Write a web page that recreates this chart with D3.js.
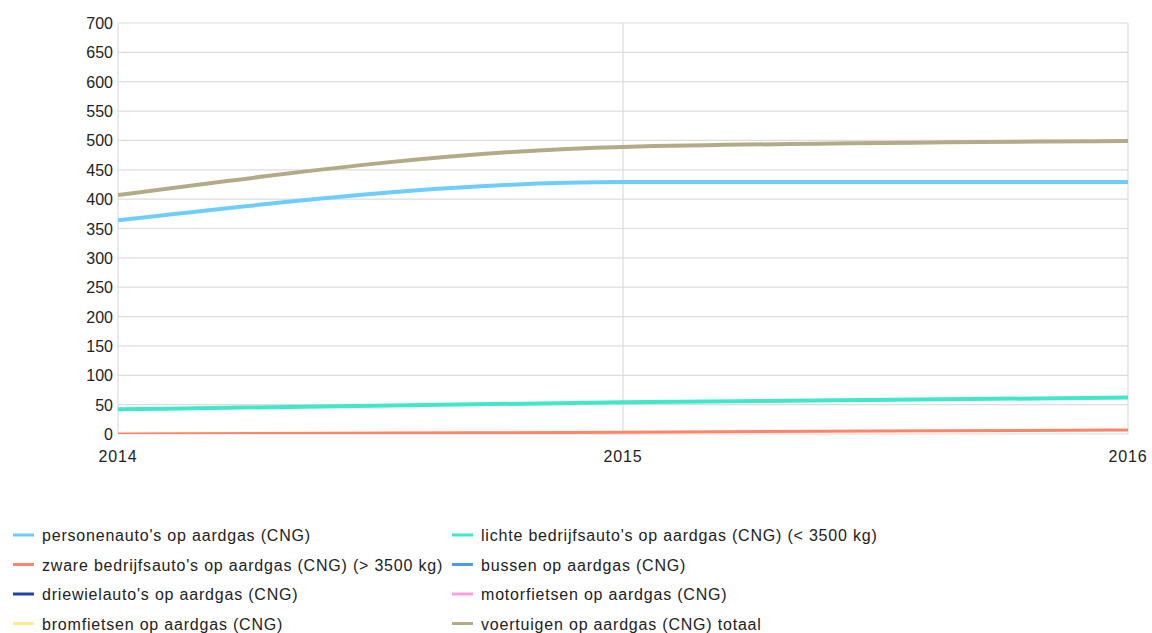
<!DOCTYPE html>
<html>
<head>
<meta charset="utf-8">
<script src="https://cdn.jsdelivr.net/npm/d3@7"></script>
<style>
  body { margin: 0; background: #fff; }
  text { font-family: "Liberation Sans", Arial, sans-serif; }
</style>
</head>
<body>
<div id="chart"></div>
<script>
var width = 1152, height = 633;

// data
var years = [2014, 2015, 2016];
var personen = [364, 429, 429];
var lichte = [42, 54, 62];
var zware = [0, 3, 7];
var bussen = [null, null, null];
var driewiel = [null, null, null];
var motor = [null, null, null];
var brom = [null, null, null];
var totaal = [407, 489, 499];
var yTicks = [0, 50, 100, 150, 200, 250, 300, 350, 400, 450, 500, 550, 600, 650, 700];

var series = [
  {name: "personenauto's op aardgas (CNG)", values: personen, color: "#6dcdff"},
  {name: "lichte bedrijfsauto's op aardgas (CNG) (< 3500 kg)", values: lichte, color: "#3ee8c8"},
  {name: "zware bedrijfsauto's op aardgas (CNG) (> 3500 kg)", values: zware, color: "#ff8468"},
  {name: "bussen op aardgas (CNG)", values: bussen, color: "#4f97f5"},
  {name: "driewielauto's op aardgas (CNG)", values: driewiel, color: "#1c43a8"},
  {name: "motorfietsen op aardgas (CNG)", values: motor, color: "#ff9ee0"},
  {name: "bromfietsen op aardgas (CNG)", values: brom, color: "#ffec8a"},
  {name: "voertuigen op aardgas (CNG) totaal", values: totaal, color: "#b3ab88"}
];

var m = {left: 118, right: 1128, top: 23, bottom: 434};

var x = d3.scaleLinear().domain([2014, 2016]).range([m.left, m.right]);
var y = d3.scaleLinear().domain([0, 700]).range([m.bottom, m.top]);

var svg = d3.select("#chart").append("svg")
  .attr("width", width).attr("height", height);

svg.append("clipPath").attr("id", "plot")
  .append("rect")
  .attr("x", m.left).attr("y", m.top - 5)
  .attr("width", m.right - m.left + 5).attr("height", m.bottom - m.top + 5);

// grid
svg.append("g").selectAll("line").data(yTicks).enter().append("line")
  .attr("x1", m.left).attr("x2", m.right)
  .attr("y1", d => y(d)).attr("y2", d => y(d))
  .attr("stroke", "#dcdcdc").attr("stroke-width", 1.2);
svg.append("g").selectAll("line").data(years).enter().append("line")
  .attr("x1", d => x(d)).attr("x2", d => x(d))
  .attr("y1", m.top).attr("y2", m.bottom)
  .attr("stroke", "#dcdcdc").attr("stroke-width", 1.2);

// y labels
svg.append("g").selectAll("text").data(yTicks).enter().append("text")
  .attr("x", m.left - 5).attr("y", d => y(d) + 6)
  .attr("text-anchor", "end")
  .attr("font-size", 16).attr("fill", "#222")
  .text(d => d);

// x labels
svg.append("g").selectAll("text").data(years).enter().append("text")
  .attr("x", d => x(d)).attr("y", 462)
  .attr("text-anchor", "middle")
  .attr("font-size", 16).attr("letter-spacing", 0.8).attr("fill", "#222")
  .text(d => d);

var line = d3.line()
  .defined(d => d[1] != null)
  .x(d => x(d[0])).y(d => y(d[1]))
  .curve(d3.curveMonotoneX);

svg.append("g").attr("clip-path", "url(#plot)")
  .selectAll("path").data(series).enter().append("path")
  .attr("d", s => line(years.map((yr, i) => [yr, s.values[i]])))
  .attr("fill", "none")
  .attr("stroke", s => s.color)
  .attr("stroke-width", s => s.values === zware ? 3 : 4)
  .attr("stroke-linecap", "butt");

// legend
var leg = svg.append("g");
series.forEach(function(s, i) {
  var col = i % 2, row = Math.floor(i / 2);
  var lx = col === 0 ? 13 : 452;
  var ly = 535 + row * 29.5;
  leg.append("line")
    .attr("x1", lx).attr("x2", lx + 21)
    .attr("y1", ly).attr("y2", ly)
    .attr("stroke", s.color).attr("stroke-width", 3);
  leg.append("text")
    .attr("x", lx + 29).attr("y", ly + 6)
    .attr("font-size", 16).attr("letter-spacing", 0.8).attr("fill", "#222")
    .text(s.name);
});
</script>
</body>
</html>
